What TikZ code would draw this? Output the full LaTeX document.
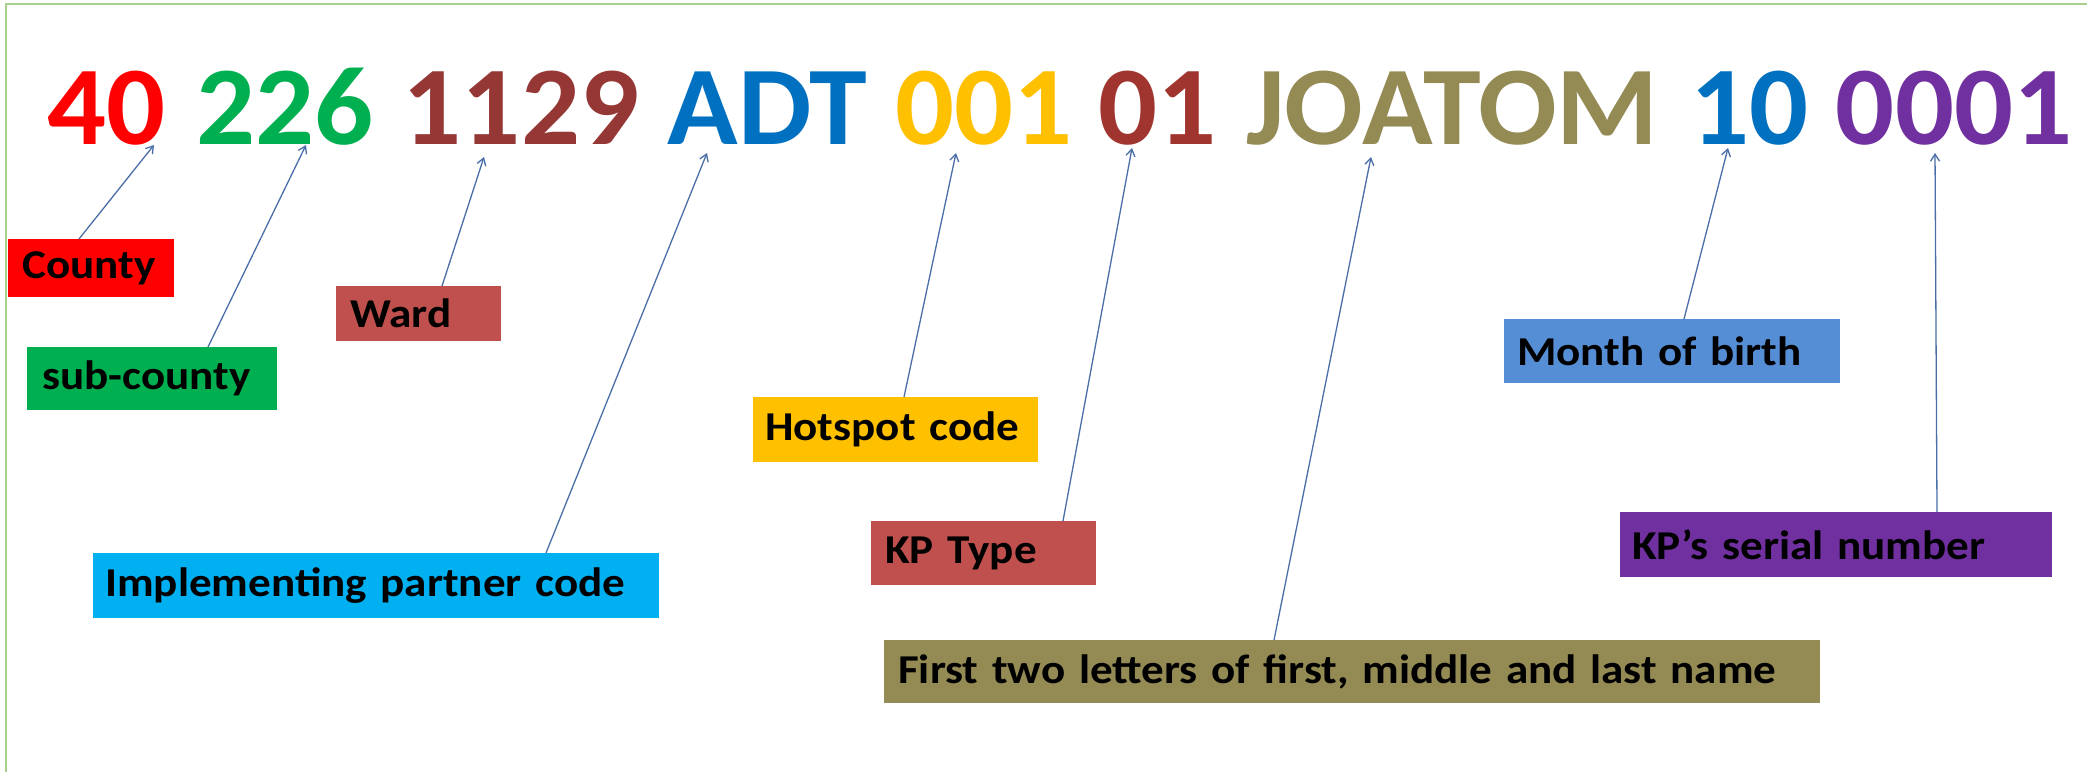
\documentclass[tikz,border=0pt]{standalone}
\usepackage{fontspec}
\usetikzlibrary{calc,arrows.meta}
\setmainfont{Carlito}
\newfontfamily\bigfont[FakeStretch=1.04]{Carlito}
\newfontfamily\labfont[FakeStretch=1.1]{Carlito}
\definecolor{cRed}{HTML}{FF0000}
\definecolor{cGreen}{HTML}{00B050}
\definecolor{cDark}{HTML}{953735}
\definecolor{cDark2}{HTML}{A0352F}
\definecolor{cBlue}{HTML}{0070C0}
\definecolor{cGold}{HTML}{FFC000}
\definecolor{cOlive}{HTML}{948A54}
\definecolor{cPurple}{HTML}{7030A0}
\definecolor{cRose}{HTML}{C0504D}
\definecolor{cSky}{HTML}{00B0F0}
\definecolor{cMid}{HTML}{558ED5}
\definecolor{cFrame}{HTML}{A9D18E}
\definecolor{cLine}{HTML}{4A6EA8}
\tikzset{
  code/.style={anchor=base, inner sep=0pt, font=\bigfont\bfseries\fontsize{112}{112}\selectfont},
  lab/.style={anchor=north west, inner ysep=0pt, align=left, text=black,
     font=\labfont\bfseries\fontsize{41}{41}\selectfont},
  conn/.style={draw=cLine, line width=1.3pt, -{Straight Barb[length=7pt,width=9pt]}}
}
\begin{document}
\begin{tikzpicture}[x=1pt,y=-1pt]
\useasboundingbox (0,0) rectangle (2087,772);
\fill[white] (0,0) rectangle (2087,772);
\draw[cFrame, line width=2pt] (6,772) -- (6,4) -- (2087,4);

% code segments
\node[code, text=cRed]    (n40)   at (106.5,144) {40};
\node[code, text=cGreen]  (n226)  at (285,144)   {226};
\node[code, text=cDark]   (n1129) at (521,144)   {1129};
\node[code, text=cBlue]   (nADT)  at (767.5,144) {ADT};
\node[code, text=cGold]   (n001)  at (984,144)   {001};
\node[code, text=cDark2]  (n01)   at (1157.5,144){01};
\node[code, text=cOlive]  (nJO)   at (1452.5,144){JOATOM};
\node[code, text=cBlue]   (n10)   at (1749.5,144){10};
\node[code, text=cPurple] (n0001) at (1954,144)  {0001};

% labels
\node[lab, fill=cRed,    minimum height=58, inner xsep=14, text width=166-28] (county) at (8,239)    {County};
\node[lab, fill=cGreen,  minimum height=63, inner xsep=15, text width=250-30] (sub)    at (27,347)   {sub-county};
\node[lab, fill=cRose,   minimum height=55, inner xsep=14, text width=165-28] (ward)   at (336,286)  {Ward};
\node[lab, fill=cSky,    minimum height=65, inner xsep=12, text width=566-24] (impl)   at (93,553)   {Implementing partner code};
\node[lab, fill=cGold,   minimum height=65, inner xsep=12, text width=285-24] (hot)    at (753,397)  {Hotspot code};
\node[lab, fill=cRose,   minimum height=64, inner xsep=14, text width=225-28] (kpt)    at (871,521)  {KP Type};
\node[lab, fill=cOlive,  minimum height=63, inner xsep=14, text width=936-28] (first)  at (884,640)  {First two letters of first, middle and last name};
\node[lab, fill=cMid,    minimum height=64, inner xsep=13, text width=336-26] (month)  at (1504,319) {Month of birth};
\node[lab, fill=cPurple, minimum height=65, inner xsep=12, text width=432-24] (serial) at (1620,512) {KP’s serial number};

% arrow tips
\coordinate (t1) at (154,145);
\coordinate (t2) at (306,145);
\coordinate (t3) at (484,157);
\coordinate (t4) at (707,153);
\coordinate (t5) at (956,153);
\coordinate (t6) at (1132,148);
\coordinate (t7) at (1371,157);
\coordinate (t8) at (1728,148);
\coordinate (t9) at (1935,153);

\draw[conn] ($(county.north west)+(71,0)$) -- (t1);
\draw[conn] ($(sub.north west)+(181,0)$) -- (t2);
\draw[conn] ($(ward.north west)+(106,0)$) -- (t3);
\draw[conn] ($(impl.north west)+(453,0)$) -- (t4);
\draw[conn] ($(hot.north west)+(151,0)$) -- (t5);
\draw[conn] ($(kpt.north west)+(192,0)$) -- (t6);
\draw[conn] ($(first.north west)+(390,0)$) -- (t7);
\draw[conn] ($(month.north west)+(180,0)$) -- (t8);
\draw[conn] ($(serial.north west)+(317,0)$) -- (t9);
\end{tikzpicture}
\end{document}
